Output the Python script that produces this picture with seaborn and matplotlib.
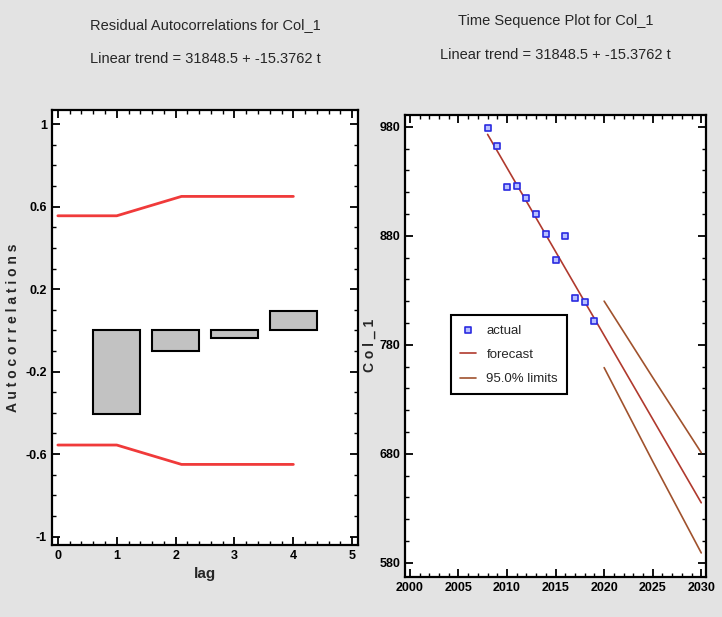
import numpy as np
import pandas as pd
import matplotlib
matplotlib.use("Agg")
import matplotlib.pyplot as plt
from matplotlib.ticker import MultipleLocator
import seaborn as sns

# residual autocorrelations (left panel)
lags = [1, 2, 3, 4]
acf = [-0.405, -0.10, -0.035, 0.095]
limit_lag = [0, 1, 2.1, 4]
upper_limit = [0.556, 0.556, 0.65, 0.65]
lower_limit = [-0.556, -0.556, -0.65, -0.65]

# time sequence (right panel)
years = [2008, 2009, 2010, 2011, 2012, 2013, 2014, 2015, 2016, 2017, 2018, 2019]
actual = [979, 962, 925, 926, 915, 900, 882, 858, 880, 823, 819, 802]
fc_years = [2008, 2019, 2030]
forecast = [973, 804, 635]
lim_years = [2020, 2025, 2030]
upper95 = [820, 750, 681]
lower95 = [759, 673, 589]

sns.set_theme(style="ticks")
plt.rcParams['font.family'] = ['Liberation Sans Narrow', 'Liberation Sans', 'DejaVu Sans']
plt.rcParams['axes.linewidth'] = 1.6

fig = plt.figure(figsize=(7.22, 6.17), dpi=100)
fig.patch.set_facecolor("#e3e3e3")

ax1 = fig.add_axes([0.072, 0.117, 0.424, 0.705])
ax2 = fig.add_axes([0.561, 0.065, 0.417, 0.749])

# left: autocorrelations
df_acf = pd.DataFrame({"lag": lags, "acf": acf})
sns.barplot(data=df_acf, x="lag", y="acf", native_scale=True, width=0.8,
            color="#c2c2c2", edgecolor="black", linewidth=1.5, saturation=1, ax=ax1)
sns.lineplot(x=limit_lag, y=upper_limit, color="#f03a3a", linewidth=2, ax=ax1)
sns.lineplot(x=limit_lag, y=lower_limit, color="#f03a3a", linewidth=2, ax=ax1)
ax1.set_xlim(-0.1, 5.1)
ax1.set_ylim(-1.04, 1.07)
ax1.set_xticks([0, 1, 2, 3, 4, 5])
ax1.set_yticks([-1, -0.6, -0.2, 0.2, 0.6, 1])
ax1.set_yticklabels(["-1", "-0.6", "-0.2", "0.2", "0.6", "1"])
ax1.xaxis.set_minor_locator(MultipleLocator(0.2))
ax1.yaxis.set_minor_locator(MultipleLocator(0.1))
ax1.set_xlabel("lag", fontsize=11, fontweight="bold")
ax1.set_ylabel("A u t o c o r r e l a t i o n s", fontsize=10, fontweight="bold")
ax1.set_title("Residual Autocorrelations for Col_1\nLinear trend = 31848.5 + -15.3762 t",
              fontsize=10.5, pad=34, linespacing=2.8)

# right: time sequence
sns.lineplot(x=fc_years, y=forecast, color="#b03a2e", linewidth=1.2, ax=ax2, label="forecast")
sns.lineplot(x=lim_years, y=upper95, color="#a0522d", linewidth=1.2, ax=ax2, label="95.0% limits")
sns.lineplot(x=lim_years, y=lower95, color="#a0522d", linewidth=1.2, ax=ax2)
sns.scatterplot(x=years, y=actual, marker="s", s=22, facecolor="#b8c0ff",
                edgecolor="#2a2ae0", linewidth=1.2, ax=ax2, label="actual", zorder=5)
ax2.set_xlim(1999.5, 2030.5)
ax2.set_ylim(567, 991)
ax2.set_xticks([2000, 2005, 2010, 2015, 2020, 2025, 2030])
ax2.set_yticks([580, 680, 780, 880, 980])
ax2.xaxis.set_minor_locator(MultipleLocator(1))
ax2.yaxis.set_minor_locator(MultipleLocator(20))
ax2.set_ylabel("C o l _ 1", fontsize=10, fontweight="bold", labelpad=2)
ax2.set_title("Time Sequence Plot for Col_1\nLinear trend = 31848.5 + -15.3762 t",
              fontsize=10.5, pad=40, linespacing=2.8)

handles, labels = ax2.get_legend_handles_labels()
order = [labels.index("actual"), labels.index("forecast"), labels.index("95.0% limits")]
leg = ax2.legend([handles[i] for i in order], [labels[i] for i in order],
                 loc="upper left", bbox_to_anchor=(0.13, 0.58), fontsize=9.5,
                 frameon=True, fancybox=False, edgecolor="black", framealpha=1,
                 handlelength=1.2, borderpad=0.7, labelspacing=0.9)
leg.get_frame().set_linewidth(1.5)

for ax in (ax1, ax2):
    ax.set_facecolor("white")
    ax.tick_params(which="both", direction="in", top=True, right=True, colors="black",
                   labelsize=9)
    ax.tick_params(which="major", length=6, width=1.3)
    ax.tick_params(which="minor", length=3, width=1)
    for lbl in ax.get_xticklabels() + ax.get_yticklabels():
        lbl.set_fontweight("bold")
    for s in ax.spines.values():
        s.set_color("black")

fig.savefig("out.png", dpi=100, facecolor=fig.get_facecolor())
